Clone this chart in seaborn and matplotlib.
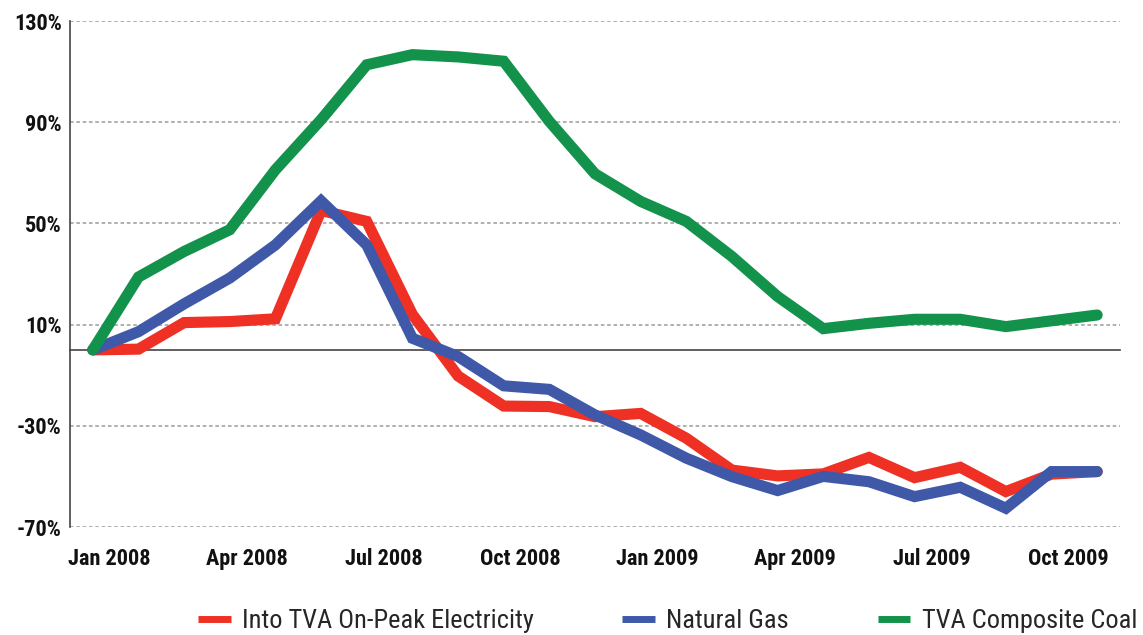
import matplotlib
matplotlib.use("Agg")
import matplotlib.pyplot as plt
import seaborn as sns
import pandas as pd
import numpy as np
from matplotlib.lines import Line2D

months = ["Jan 2008", "Feb 2008", "Mar 2008", "Apr 2008", "May 2008", "Jun 2008",
          "Jul 2008", "Aug 2008", "Sep 2008", "Oct 2008", "Nov 2008", "Dec 2008",
          "Jan 2009", "Feb 2009", "Mar 2009", "Apr 2009", "May 2009", "Jun 2009",
          "Jul 2009", "Aug 2009", "Sep 2009", "Oct 2009", "Nov 2009"]

electricity = [0, 0.3, 10.8, 11.2, 12.3, 55.1, 50.8, 14.0, -10.3, -22.2, -22.4, -26.4,
               -25.1, -34.9, -47.5, -49.8, -49.0, -42.5, -50.5, -46.4, -56.0, -49.1, -48.1]
natural_gas = [0, 7.2, 18.2, 28.4, 41.5, 58.9, 41.5, 4.6, -2.6, -14.2, -15.6, -25.7,
               -33.6, -42.8, -50.1, -55.6, -50.0, -52.1, -58.0, -54.3, -62.6, -48.1, -48.1]
coal = [0, 28.8, 38.9, 47.5, 71.2, 91.0, 112.7, 116.7, 115.8, 114.1, 90.3, 69.6,
        58.7, 50.8, 36.9, 21.1, 8.4, 10.5, 12.1, 12.1, 9.2, 11.5, 13.8]

series_names = ["Into TVA On-Peak Electricity", "Natural Gas", "TVA Composite Coal"]
colors = ["#EE3124", "#3F59A8", "#12924A"]
y_ticks = [-70, -30, 10, 50, 90, 130]
tick_months = ["Jan 2008", "Apr 2008", "Jul 2008", "Oct 2008",
               "Jan 2009", "Apr 2009", "Jul 2009", "Oct 2009"]

idx = np.arange(len(months))
df = pd.concat([
    pd.DataFrame({"x": idx, "value": vals, "series": name})
    for name, vals in zip(series_names, [electricity, natural_gas, coal])
], ignore_index=True)

sns.set_style("white")
plt.rcParams["font.family"] = ["Roboto Condensed", "Liberation Sans Narrow",
                               "Archivo Narrow", "Barlow Semi Condensed", "DejaVu Sans"]

fig = plt.figure(figsize=(11.43, 6.35), dpi=100)
ax = fig.add_axes([70 / 1143, 1 - 527 / 635, 1050 / 1143, 506 / 635])

sns.lineplot(data=df, x="x", y="value", hue="series", hue_order=series_names,
             palette=colors, sort=False, linewidth=8, legend=False, ax=ax,
             zorder=3)
for ln in ax.get_lines():
    ln.set_solid_capstyle("round")
    ln.set_solid_joinstyle("miter")

ax.set_xlim(-0.5, len(months) - 0.5)
ax.set_ylim(-70, 130)

# y axis
ax.set_yticks(y_ticks)
ax.set_yticklabels([f"{v}%" for v in y_ticks], fontsize=16, fontweight="bold",
                   color="#111111")
ax.tick_params(axis="y", length=0, pad=6)
ax.yaxis.grid(True, linestyle=(0, (2, 1.5)), color="#AAAAAA", linewidth=1.3)
ax.xaxis.grid(False)

# spines
for s in ["top", "right"]:
    ax.spines[s].set_visible(False)
ax.spines["left"].set_color("#444444")
ax.spines["left"].set_linewidth(1.2)
ax.spines["bottom"].set_position(("data", 0))
ax.spines["bottom"].set_color("#444444")
ax.spines["bottom"].set_linewidth(1.2)
ax.spines["bottom"].set_zorder(2)

# category boundary ticks on the zero line
ax.set_xticks(np.arange(0.5, len(months), 1.0))
ax.set_xticklabels([])
ax.tick_params(axis="x", direction="out", length=4, width=1.2, color="#444444")
ax.set_xlabel("")
ax.set_ylabel("")

# month labels at the bottom
sec = ax.secondary_xaxis("bottom")
pos = [months.index(m) + 0.37 for m in tick_months]
sec.set_xticks(pos)
sec.set_xticklabels(tick_months, fontsize=16, fontweight="bold", color="#111111")
sec.tick_params(length=0, pad=15)
sec.spines["bottom"].set_visible(False)

handles = [Line2D([0], [0], color=c, linewidth=5, solid_capstyle="butt") for c in colors]
fig.legend(handles, series_names, loc="center", bbox_to_anchor=(0.584, 0.022),
           ncol=3, frameon=False, fontsize=19, handlelength=1.25,
           handletextpad=0.42, columnspacing=3.35)

fig.savefig("out.png", dpi=100)
